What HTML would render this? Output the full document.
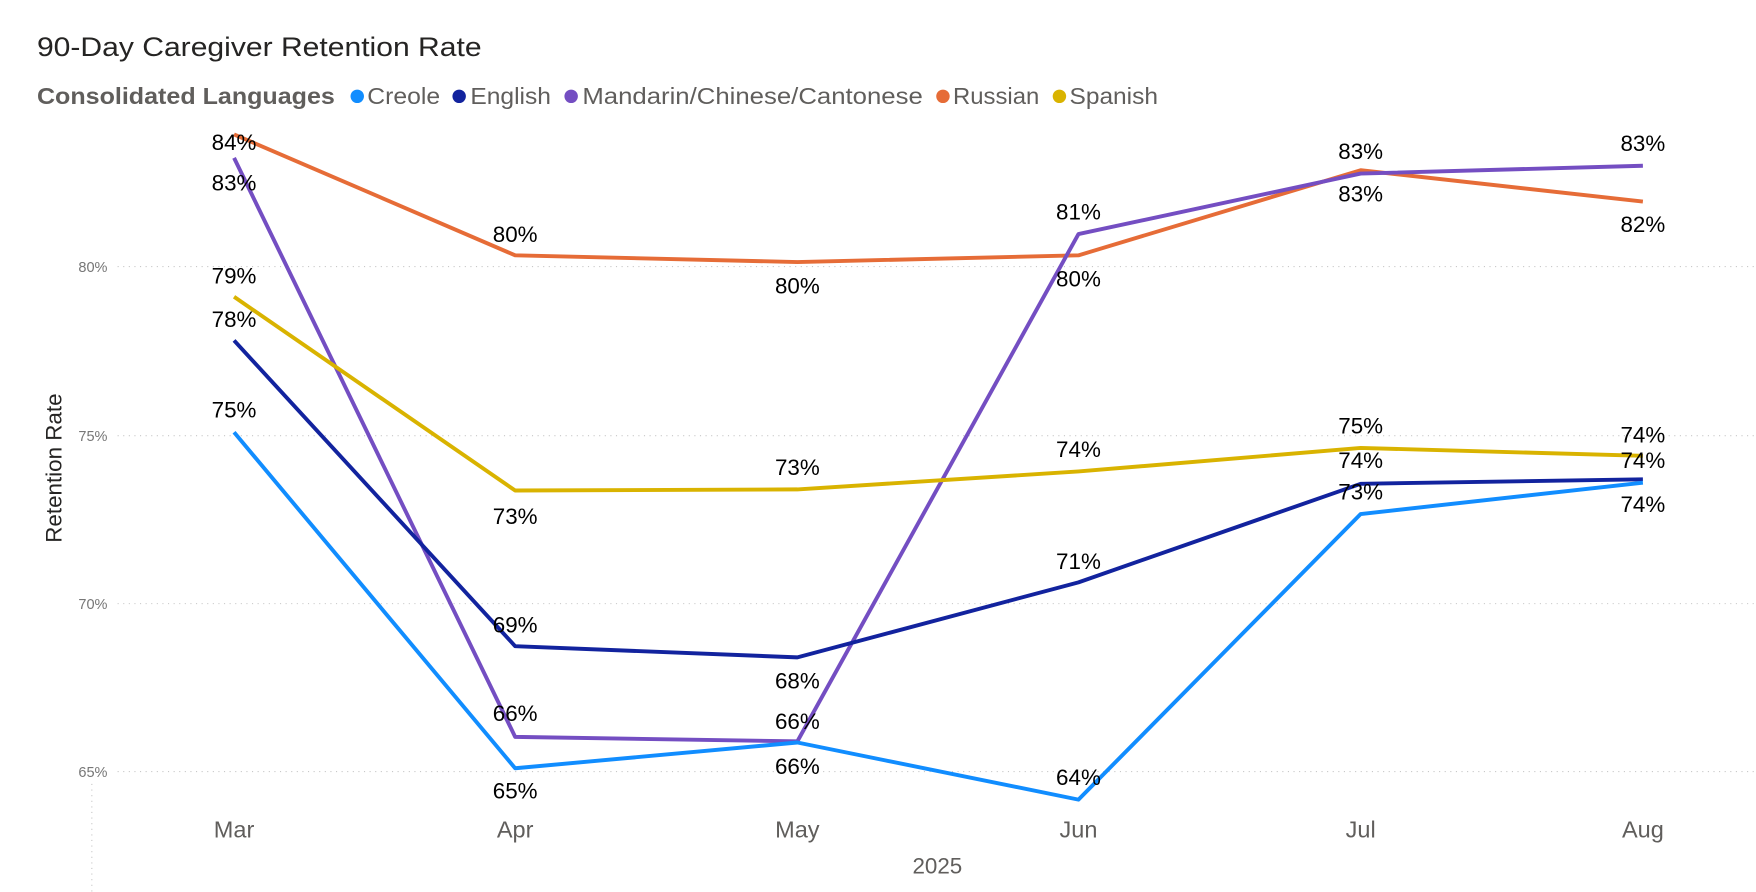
<!DOCTYPE html>
<html><head><meta charset="utf-8"><style>html,body{margin:0;padding:0;background:#fff;}svg{display:block}</style></head>
<body>
<svg width="1756" height="892" viewBox="0 0 1568 796.5" preserveAspectRatio="none" xmlns="http://www.w3.org/2000/svg" font-family="'Liberation Sans', sans-serif">
<text x="33" y="50" font-size="24" fill="#252423" textLength="397" lengthAdjust="spacingAndGlyphs">90-Day Caregiver Retention Rate</text>
<g font-size="21">
<text x="33" y="93" fill="#605e5c" font-weight="bold" textLength="266" lengthAdjust="spacingAndGlyphs">Consolidated Languages</text>
<circle cx="319" cy="86" r="6" fill="#118dff"/><text x="328" y="93" fill="#605e5c" textLength="65" lengthAdjust="spacingAndGlyphs">Creole</text>
<circle cx="410" cy="86" r="6" fill="#12239e"/><text x="420" y="93" fill="#605e5c" textLength="72" lengthAdjust="spacingAndGlyphs">English</text>
<circle cx="510" cy="86" r="6" fill="#744ec2"/><text x="520" y="93" fill="#605e5c" textLength="304" lengthAdjust="spacingAndGlyphs">Mandarin/Chinese/Cantonese</text>
<circle cx="842" cy="86" r="6" fill="#e66c37"/><text x="851" y="93" fill="#605e5c" textLength="77" lengthAdjust="spacingAndGlyphs">Russian</text>
<circle cx="946" cy="86" r="6" fill="#d9b300"/><text x="955" y="93" fill="#605e5c" textLength="79" lengthAdjust="spacingAndGlyphs">Spanish</text>
</g>
<g stroke="#c8c8c8" stroke-dasharray="1,4" stroke-width="1">
<line x1="105" x2="1568" y1="238" y2="238"/><line x1="105" x2="1568" y1="389" y2="389"/>
<line x1="105" x2="1568" y1="539" y2="539"/><line x1="105" x2="1568" y1="689" y2="689"/>
<line x1="82" x2="82" y1="700" y2="796"/>
</g>
<g font-size="13" fill="#777" text-anchor="end">
<text x="96" y="243">80%</text><text x="96" y="394">75%</text><text x="96" y="544">70%</text><text x="96" y="694">65%</text>
</g>
<text transform="translate(55,418) rotate(-90)" font-size="20" fill="#252423" text-anchor="middle">Retention Rate</text>
<g font-size="21" fill="#605e5c" text-anchor="middle">
<text x="209" y="748">Mar</text><text x="460" y="748">Apr</text><text x="712" y="748">May</text><text x="963" y="748">Jun</text><text x="1215" y="748">Jul</text><text x="1467" y="748">Aug</text>
<text x="837" y="780" font-size="20">2025</text>
</g>
<g fill="none" stroke-width="3.5" stroke-linejoin="round">
<polyline stroke="#e66c37" points="209,120 460,228 712,234 963,228 1215,152 1467,180"/>
<polyline stroke="#744ec2" points="209,141 460,658 712,662 963,209 1215,155 1467,148"/>
<polyline stroke="#d9b300" points="209,265 460,438 712,437 963,421 1215,400 1467,407"/>
<polyline stroke="#12239e" points="209,304 460,577 712,587 963,520 1215,432 1467,428"/>
<polyline stroke="#118dff" points="209,386 460,686 712,663 963,714 1215,459 1467,431"/>
</g>
<g font-size="20" fill="#000" text-anchor="middle">
<text x="209" y="134">84%</text><text x="209" y="170">83%</text><text x="209" y="253">79%</text><text x="209" y="292">78%</text><text x="209" y="373">75%</text>
<text x="460" y="216">80%</text><text x="460" y="468">73%</text><text x="460" y="565">69%</text><text x="460" y="644">66%</text><text x="460" y="713">65%</text>
<text x="712" y="262">80%</text><text x="712" y="424">73%</text><text x="712" y="615">68%</text><text x="712" y="651">66%</text><text x="712" y="691">66%</text>
<text x="963" y="196">81%</text><text x="963" y="256">80%</text><text x="963" y="408">74%</text><text x="963" y="508">71%</text><text x="963" y="701">64%</text>
<text x="1215" y="142">83%</text><text x="1215" y="180">83%</text><text x="1215" y="387">75%</text><text x="1215" y="418">74%</text><text x="1215" y="446">73%</text>
<text x="1467" y="135">83%</text><text x="1467" y="207">82%</text><text x="1467" y="395">74%</text><text x="1467" y="418">74%</text><text x="1467" y="457">74%</text>
</g>
</svg>
</body></html>
